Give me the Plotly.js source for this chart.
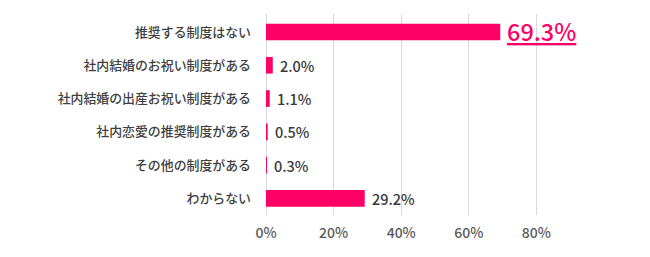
<!DOCTYPE html>
<html><head><meta charset="utf-8">
<script src="https://cdn.plot.ly/plotly-3.0.1.min.js"></script>
<style>html,body{margin:0;padding:0;background:#fff;}#chart{width:650px;height:257px;}</style>
</head><body><div id="chart"></div>
<script>
const categories = ["推奨する制度はない","社内結婚のお祝い制度がある","社内結婚の出産お祝い制度がある","社内恋愛の推奨制度がある","その他の制度がある","わからない"];
const values = [69.3, 2.0, 1.1, 0.5, 0.3, 29.2];
const labels = ["69.3%","2.0%","1.1%","0.5%","0.3%","29.2%"];
const tickVals = [0,20,40,60,80];
const tickText = ["0%","20%","40%","60%","80%"];

const pink = "#FF0066";
const font = "Noto Sans CJK JP";

const trace = {
  type: "bar", orientation: "h",
  x: values, y: categories,
  marker: {color: pink},
  hoverinfo: "none"
};

const annotations = values.map((v, i) => {
  const top = i === 0;
  return {
    x: v, y: categories[i], xref: "x", yref: "y",
    xanchor: "left", yanchor: "middle", xshift: top ? 5 : 5, yshift: top ? 1 : 0,
    showarrow: false,
    text: top ? "<u>" + labels[i] + "</u>" : labels[i],
    font: {family: font, size: top ? 23.5 : 14.5, weight: 500, color: top ? pink : "#383838"}
  };
});

const layout = {
  width: 650, height: 257,
  margin: {l: 266, r: 46, t: 14, b: 42},
  paper_bgcolor: "#fff", plot_bgcolor: "#fff",
  bargap: 0.5,
  showlegend: false,
  xaxis: {
    range: [0, 100], tickvals: tickVals, ticktext: tickText,
    showgrid: true, gridcolor: "#d9d9d9", gridwidth: 1,
    zeroline: true, zerolinecolor: "#d9d9d9", zerolinewidth: 1,
    showline: false, ticks: "", ticklabelstandoff: 8,
    tickfont: {family: font, size: 14, weight: 500, color: "#595959"},
    fixedrange: true
  },
  yaxis: {
    autorange: "reversed", showgrid: false, zeroline: false, showline: false,
    ticks: "", ticklabelstandoff: 14,
    tickfont: {family: font, size: 12.9, weight: 500, color: "#404040"},
    fixedrange: true
  },
  annotations: annotations
};

Plotly.newPlot("chart", [trace], layout, {displayModeBar: false, staticPlot: true});
</script></body></html>
